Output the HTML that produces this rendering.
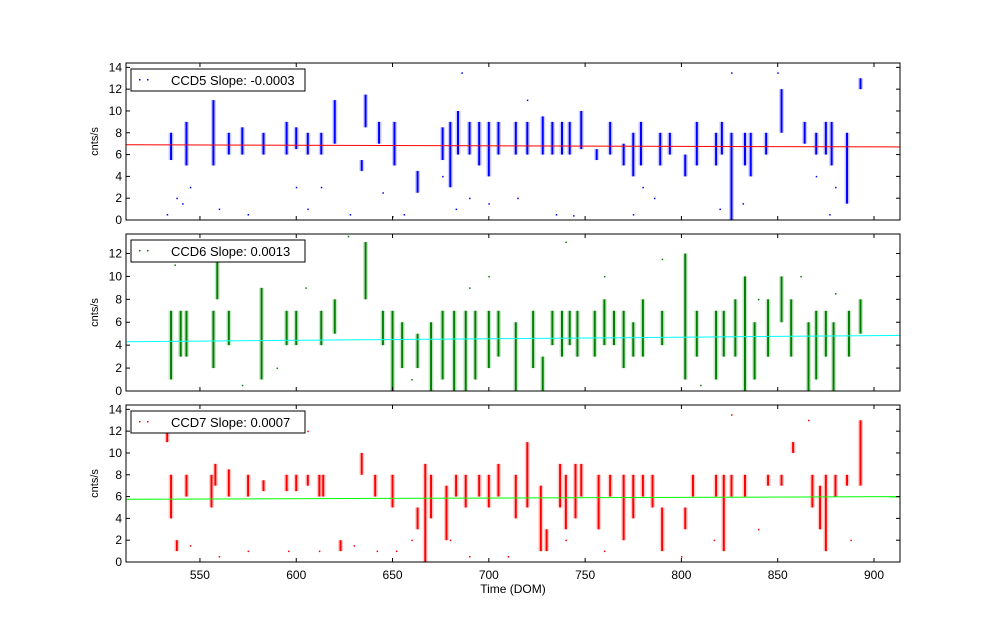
<!DOCTYPE html>
<html><head><meta charset="utf-8"><style>
body{margin:0;background:#fff;width:1000px;height:624px;overflow:hidden}
svg{font-family:"Liberation Sans",sans-serif}
</style></head><body>
<svg id="chart" width="1000" height="624"></svg>
<script>
const xTicks=[550,600,650,700,750,800,850,900];
const ccd5Clusters=[[535,5.5,8],[543,5,9],[557,5,11],[565,6,8],[572,6,8.5],[583,6,8],[595,6,9],[600,6.5,8.5],[606,6,8],[613,6,8],[620,7,11],[634,4.5,5.5],[636,8.5,11.5],[643,7,9],[651,5,9],[663,2.5,4.5],[676,5.5,8.5],[680,3,9],[684,6,10],[690,6,9],[695,5,9],[700,4,9],[705,6,9],[714,6,9],[720,6,9],[728,6,9.5],[733,6,9],[738,6,9],[742,6,9],[748,6.5,10],[756,5.5,6.5],[763,6,9],[770,5,7],[775,4,8],[779,5,9],[789,5,8],[794,6,8],[802,4,6],[808,5,9],[818,5,8],[821,6,9],[826,0,8],[833,5,8],[836,4,8],[844,6,8],[852,8,12],[864,7,9],[870,6,8],[875,6,9],[878,5,9],[886,1.5,8],[893,12,13]];
const ccd5Outliers=[[533,0.5],[538,2],[541,1.5],[545,3],[560,1],[575,0.5],[600,3],[606,1],[613,3],[628,0.5],[645,2.5],[650,0.3],[656,0.5],[676,4],[683,1],[686,13.5],[690,2],[700,1.5],[715,2],[720,11],[735,0.5],[744,0.4],[775,0.5],[780,3],[786,2],[820,1],[832,1.5],[850,13.5],[870,4],[877,0.5],[880,3],[826,13.5]];
const ccd5Fit=[6.9,6.7];
const ccd6Clusters=[[535,1,7],[540,3,7],[543,3,7],[557,2,7],[559,8,12],[565,4,7],[582,1,9],[595,4,7],[600,4,7],[613,4,7],[620,5,8],[636,8,13],[645,4,7],[650,0,7],[655,2,6],[663,2,5],[670,0,6],[676,1,7],[682,0,7],[688,0,7],[693,1,7],[700,2,7],[705,3,7],[714,0,6],[723,2,7],[728,0,3],[733,4,7],[738,3,7],[742,4,7],[746,3,7],[755,3,7],[760,4,8],[765,4,7],[770,2,7],[775,3,6],[780,3,8],[790,4,7],[802,1,12],[808,3,7],[818,1,7],[822,3,7],[828,3,8],[833,0,10],[838,1,6],[845,3,8],[852,6,10],[857,3,8],[866,0,6],[870,1,7],[875,3,7],[879,0,6],[887,3,7],[893,5,8]];
const ccd6Outliers=[[537,11],[572,0.5],[590,2],[605,9],[627,13.5],[660,1],[690,9],[700,10],[740,13],[760,10],[790,11.5],[810,0.5],[840,8],[862,10],[880,8.5]];
const ccd6Fit=[4.3,4.85];
const ccd7Clusters=[[533,11,12.5],[535,4,8],[538,1,2],[543,6,8],[556,5,8],[558,7,9],[565,6,8.5],[575,6,8],[583,6.5,7.5],[595,6.5,8],[600,6.5,8],[606,7,8],[612,6,8],[614,6,8],[623,1,2],[634,8,10],[641,6,8],[650,5,8],[663,3,5],[667,0,9],[670,4,8],[678,2,7],[683,6,8],[688,5,8],[695,6,8],[700,5,8],[705,6,9],[714,4,8],[720,5,11],[727,1,7],[730,1,3],[737,5,9],[740,3,8],[745,4,9],[748,6,9],[757,3,8],[763,6,8],[770,2,8],[775,4,8],[780,6,8],[785,5,8],[790,1,5],[802,3,5],[806,6,8],[818,6,8],[822,1,8],[826,6,8],[833,6,8],[845,7,8],[852,7,8],[858,10,11],[868,5,8],[872,3,7],[875,1,8],[880,6,8],[886,7,8],[893,7,13]];
const ccd7Outliers=[[545,1.5],[560,0.5],[575,1],[596,1],[606,12],[612,1],[630,1.5],[642,1],[652,1],[660,2],[680,2],[690,0.5],[710,0.5],[740,2],[760,1],[800,0.5],[817,2],[826,13.5],[840,3],[866,13],[888,2]];
const ccd7Fit=[5.75,6.0];

const svg=document.getElementById('chart');
const NS='http://www.w3.org/2000/svg';
const X0=126,X1=900,D0=511.6,D1=913.5;
function xs(d){return X0+(d-D0)/(D1-D0)*(X1-X0);}
function mk(t,a,p){const e=document.createElementNS(NS,t);for(const k in a)e.setAttribute(k,a[k]);(p||svg).appendChild(e);return e;}
const panels=[
 {top:63,bot:220,ymax:14.4,yt:[0,2,4,6,8,10,12,14],cl:ccd5Clusters,out:ccd5Outliers,fit:ccd5Fit,col:'#0000ff',fc:'#ff0000',label:'CCD5 Slope: -0.0003',key:'ccd5'},
 {top:234,bot:391,ymax:13.7,yt:[0,2,4,6,8,10,12],cl:ccd6Clusters,out:ccd6Outliers,fit:ccd6Fit,col:'#008000',fc:'#00ffff',label:'CCD6 Slope: 0.0013',key:'ccd6'},
 {top:405,bot:562,ymax:14.4,yt:[0,2,4,6,8,10,12,14],cl:ccd7Clusters,out:ccd7Outliers,fit:ccd7Fit,col:'#ff0000',fc:'#00ff00',label:'CCD7 Slope: 0.0007',key:'ccd7'}];
panels.forEach((p,pi)=>{
 const ys=v=>p.bot-v/p.ymax*(p.bot-p.top);
 const g=mk('g',{});
 
 
 const clip='c'+pi;
 const cp=mk('clipPath',{id:clip},g);mk('rect',{x:X0,y:p.top,width:X1-X0,height:p.bot-p.top},cp);
 const data=mk('g',{'clip-path':'url(#'+clip+')'},g);
 p.cl.forEach(c=>{
  const x=xs(c[0]);
  const r=mk('rect',{x:x-2.5,y:ys(c[2]),width:5,height:ys(c[1])-ys(c[2]),fill:p.col,opacity:0.2},data);
  
  
  const l=mk('line',{x1:x,x2:x,y1:ys(c[1]),y2:ys(c[2]),stroke:p.col,'stroke-width':2},data);
  
  
 });
 p.out.forEach(o=>{
  const r=mk('rect',{x:xs(o[0])-0.5,y:ys(o[1])-0.5,width:1.5,height:1.5,fill:p.col},data);
  
  
 });
 const fl=mk('line',{x1:X0,x2:X1,y1:ys(p.fit[0]),y2:ys(p.fit[1]),stroke:p.fc,'stroke-width':1},data);
 
 
 mk('rect',{x:X0,y:p.top,width:X1-X0,height:p.bot-p.top,fill:'none',stroke:'#000','stroke-width':1},g);
 p.yt.forEach(v=>{
  const y=ys(v);
  mk('line',{x1:X0,x2:X0+4,y1:y,y2:y,stroke:'#000'},g);
  mk('line',{x1:X1,x2:X1-4,y1:y,y2:y,stroke:'#000'},g);
  const t=mk('text',{x:X0-4,y:y+4,'text-anchor':'end','font-size':12},g);t.textContent=v;
  
  
 });
 xTicks.forEach(d=>{const x=xs(d);
  mk('line',{x1:x,x2:x,y1:p.bot,y2:p.bot-4,stroke:'#000'},g);
  mk('line',{x1:x,x2:x,y1:p.top,y2:p.top+4,stroke:'#000'},g);
  if(pi===2){const t=mk('text',{x:x,y:p.bot+17,'text-anchor':'middle','font-size':12},g);t.textContent=d;
   
   }
 });
 const yl=mk('text',{x:0,y:0,'font-size':11,'text-anchor':'middle',transform:`translate(98,${(p.top+p.bot)/2}) rotate(-90)`},g);
 yl.textContent='cnts/s';
 
 
 const lg=mk('g',{},g);
 
 
 mk('rect',{x:131,y:p.top+6,width:174,height:22,fill:'#fff',stroke:'#000'},lg);
 mk('rect',{x:139,y:p.top+16,width:1.5,height:1.5,fill:p.col},lg);
 mk('rect',{x:147,y:p.top+16,width:1.5,height:1.5,fill:p.col},lg);
 const lt=mk('text',{x:171,y:p.top+22,'font-size':13},lg);lt.textContent=p.label;
});
const xl=mk('text',{x:513,y:593,'text-anchor':'middle','font-size':12});
xl.textContent='Time (DOM)';


</script>
</body></html>
